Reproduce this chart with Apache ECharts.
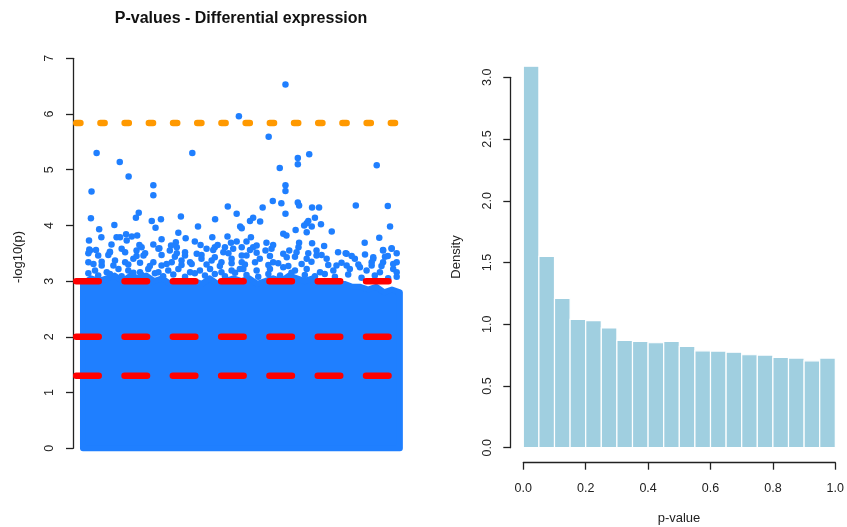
<!DOCTYPE html>
<html>
<head>
<meta charset="utf-8">
<script src="https://cdn.jsdelivr.net/npm/echarts@6/dist/echarts.min.js"></script>
<style>
  html, body { margin: 0; padding: 0; background: #ffffff; }
  #chart { width: 847px; height: 527px; }
</style>
</head>
<body>
<div id="chart"></div>
<script>
// ---- Left panel: -log10(p) per gene (gene index scaled 0..100) ----
// Upper edge of the saturated bulk of points (index, -log10 p)
const denseTop = [
  [0, 2.95], [2.5, 3.05], [5, 3.0], [7.5, 3.05], [10, 3.1], [12.5, 3.0], [15, 3.1],
  [17.5, 3.05], [20, 3.1], [22.5, 3.0], [25, 3.05], [27.5, 2.95], [30, 3.0], [32.5, 2.95],
  [35, 3.0], [37.5, 2.95], [40, 3.05], [42.5, 2.95], [45, 3.0], [47.5, 3.05], [50, 3.0],
  [52.5, 3.05], [55, 2.95], [57.5, 3.0], [60, 3.05], [62.5, 3.0], [65, 3.1], [67.5, 3.05],
  [70, 3.0], [72.5, 3.05], [75, 2.95], [77.5, 3.0], [80, 2.9], [82.5, 2.95], [85, 2.9],
  [87.5, 2.9], [90, 2.85], [92.5, 2.9], [95, 2.8], [97.5, 2.85], [100, 2.8]
];

// Individual genes standing out above the bulk
const topGenes = [
  [63.9, 6.53], [49.2, 5.96], [58.6, 5.59], [4.3, 5.30], [34.5, 5.30], [71.4, 5.28], [67.8, 5.21],
  [67.8, 5.10], [11.6, 5.14], [92.7, 5.08], [62.1, 5.03], [14.4, 4.88], [63.9, 4.72], [63.9, 4.62],
  [22.2, 4.72], [22.2, 4.54], [2.7, 4.61], [59.9, 4.44], [62.6, 4.40], [67.8, 4.41], [68.2, 4.36],
  [56.7, 4.32], [45.7, 4.34], [86.1, 4.36], [96.2, 4.35], [72.3, 4.32], [74.5, 4.32], [48.5, 4.21],
  [63.9, 4.21], [17.6, 4.23], [16.7, 4.14], [2.5, 4.13], [30.9, 4.16], [41.7, 4.11], [21.7, 4.08],
  [24.6, 4.11], [53.7, 4.14], [52.7, 4.08], [55.9, 4.07], [73.2, 4.14], [71.1, 4.08], [70.6, 4.04],
  [69.8, 4.00], [72.2, 3.98], [75.1, 4.02], [9.9, 4.01], [22.9, 3.96], [36.3, 3.98], [49.6, 3.98],
  [50.1, 3.95], [96.9, 3.98], [5.1, 3.93], [70.6, 3.88], [67.1, 3.92], [78.5, 3.89], [63.2, 3.85],
  [64.2, 3.82], [93.5, 3.78], [5.8, 3.79], [10.6, 3.79], [11.7, 3.79], [13.6, 3.84], [15.4, 3.80],
  [17.1, 3.82], [30.1, 3.87], [32.4, 3.77], [40.8, 3.79], [45.6, 3.80], [53.0, 3.79], [1.9, 3.73],
  [13.8, 3.73], [24.8, 3.75], [35.3, 3.71], [48.5, 3.71], [51.6, 3.71], [46.7, 3.69], [57.9, 3.69],
  [68.2, 3.69], [72.3, 3.68], [88.9, 3.69], [9.0, 3.66], [17.8, 3.65], [29.3, 3.70], [42.5, 3.65],
  [22.2, 3.66], [27.8, 3.64], [37.1, 3.65], [54.8, 3.64], [60.0, 3.65], [76.1, 3.63], [97.4, 3.59],
  [2.0, 3.57], [4.1, 3.56], [8.5, 3.53], [16.9, 3.55], [24.1, 3.59], [29.6, 3.50], [41.1, 3.56],
  [44.8, 3.61], [52.7, 3.56], [57.6, 3.55], [65.1, 3.55], [68.0, 3.61], [73.7, 3.55], [82.9, 3.50],
  [94.7, 3.56], [91.6, 3.43], [96.2, 3.45]
];

// Genes in the thinning band just above the bulk
const bandGenes = [
  [2.2, 3.55], [4.8, 3.46], [8.5, 3.52], [12.2, 3.58], [18.5, 3.61], [23.8, 3.58], [27.4, 3.55],
  [29.6, 3.61], [32.2, 3.46], [35.9, 3.49], [39.0, 3.58], [41.6, 3.61], [44.3, 3.52], [47.4, 3.58],
  [50.1, 3.61], [1.7, 3.34], [5.9, 3.28], [10.1, 3.37], [13.3, 3.34], [15.9, 3.40], [19.1, 3.46],
  [22.2, 3.34], [24.8, 3.28], [28.0, 3.34], [31.1, 3.37], [34.3, 3.31], [37.4, 3.40], [40.6, 3.37],
  [43.7, 3.34], [46.9, 3.40], [50.1, 3.34], [3.8, 3.19], [7.5, 3.16], [11.2, 3.22], [14.3, 3.19],
  [18.0, 3.16], [20.6, 3.22], [23.8, 3.16], [26.9, 3.19], [30.1, 3.22], [33.8, 3.16], [36.9, 3.19],
  [40.1, 3.22], [43.7, 3.16], [46.9, 3.19], [49.5, 3.22],
  [53.7, 3.61], [59.5, 3.58], [83.2, 3.49], [85.8, 3.40], [97.4, 3.58], [94.7, 3.55], [91.6, 3.40],
  [99.0, 3.34], [51.6, 3.46], [55.8, 3.40], [60.0, 3.34], [64.3, 3.43], [67.4, 3.52], [70.6, 3.40],
  [73.7, 3.46], [76.9, 3.40], [80.0, 3.28], [83.2, 3.28], [87.4, 3.25], [91.1, 3.28], [94.7, 3.34],
  [97.9, 3.22], [50.6, 3.22], [54.8, 3.19], [59.0, 3.22], [63.2, 3.25], [66.9, 3.19], [70.6, 3.22],
  [74.8, 3.16], [79.0, 3.19], [84.2, 3.22], [89.5, 3.19], [93.7, 3.16], [99.0, 3.16],
  // row near -log10 p = 3.5
  [1.7, 3.50], [8.0, 3.47], [13.3, 3.52], [16.9, 3.45], [19.6, 3.50], [24.8, 3.47], [29.0, 3.44],
  [32.2, 3.52], [37.4, 3.47], [41.6, 3.43], [45.9, 3.50], [50.1, 3.46], [54.8, 3.51], [59.0, 3.45],
  [63.2, 3.49], [66.9, 3.44], [71.1, 3.50], [75.3, 3.47], [80.5, 3.52], [84.8, 3.45], [89.0, 3.48],
  [95.3, 3.44], [99.0, 3.50],
  // row near 3.3
  [3.3, 3.31], [5.9, 3.35], [9.6, 3.28], [14.3, 3.30], [18.0, 3.33], [21.1, 3.27], [26.4, 3.31],
  [31.1, 3.29], [33.8, 3.34], [39.0, 3.30], [43.2, 3.27], [46.9, 3.32], [51.1, 3.30], [54.3, 3.34],
  [58.5, 3.29], [61.6, 3.32], [64.8, 3.27], [69.0, 3.31], [72.1, 3.35], [77.4, 3.29], [81.6, 3.33],
  [86.9, 3.30], [91.1, 3.34], [94.2, 3.27], [97.9, 3.31],
  // row near 3.1
  [1.7, 3.14], [4.8, 3.10], [8.5, 3.13], [12.2, 3.09], [15.9, 3.15], [18.5, 3.11], [22.7, 3.14],
  [25.3, 3.09], [28.5, 3.12], [32.2, 3.08], [35.3, 3.14], [38.5, 3.10], [41.6, 3.13], [44.8, 3.09],
  [48.0, 3.15], [51.6, 3.11], [55.3, 3.08], [58.5, 3.13], [62.2, 3.10], [65.8, 3.15], [70.0, 3.11],
  [73.2, 3.09], [76.3, 3.13], [79.5, 3.08], [83.7, 3.12], [87.9, 3.06], [92.1, 3.10], [96.3, 3.05],
  [99.0, 3.08]
];

// Significance thresholds: -log10 of 0.001, 0.01, 0.05 and the Bonferroni cut-off
const nominalCuts = [3, 2, 1.301];
const bonferroniCut = 5.84;
const logpTicks = [0, 1, 2, 3, 4, 5, 6, 7];

// ---- Right panel: histogram of p-values (density, bin width 0.05) ----
const binWidth = 0.05;
const binDensity = [3.09, 1.55, 1.21, 1.04, 1.03, 0.97, 0.87, 0.86, 0.85, 0.86,
                    0.82, 0.785, 0.783, 0.774, 0.753, 0.75, 0.731, 0.726, 0.704, 0.726];
const densityTicks = [0, 0.5, 1, 1.5, 2, 2.5, 3];
const pTicks = [0, 0.2, 0.4, 0.6, 0.8, 1];

const FONT = '"Liberation Sans", Arial, Helvetica, sans-serif';
const INK = '#222222';
const POINT = '#1f7fff';

const chart = echarts.init(document.getElementById('chart'), null, { renderer: 'canvas' });

function hLine(y, color, dash, z) {
  return {
    type: 'line', xAxisIndex: 0, yAxisIndex: 0, z: z,
    data: [[-2.13, y], [103.2, y]],
    symbol: 'none', silent: true, animation: false,
    lineStyle: { color: color, width: 6.5, type: dash, cap: 'round' }
  };
}

const histData = binDensity.map((d, i) => [i * binWidth, (i + 1) * binWidth, d]);

const option = {
  animation: false,
  backgroundColor: '#ffffff',
  textStyle: { fontFamily: FONT },
  grid: [
    { left: 73, right: 437, top: 58.3, bottom: 78.7, containLabel: false },
    { left: 523.3, right: 11.3, top: 77.3, bottom: 79.3, containLabel: false }
  ],
  xAxis: [
    { gridIndex: 0, type: 'value', min: -3.15, max: 103.2, show: false,
      axisLine: { onZero: false } },
    {
      gridIndex: 1, type: 'value', min: 0, max: 1, interval: 0.2, offset: 15,
      axisLine: { show: true, onZero: false, lineStyle: { color: INK, width: 1.3 } },
      axisTick: { show: true, length: 7, lineStyle: { color: INK, width: 1.3 },
                  customValues: pTicks },
      axisLabel: { color: INK, fontSize: 12.5, margin: 19, fontFamily: FONT,
                   customValues: pTicks, formatter: v => v.toFixed(1) },
      splitLine: { show: false }
    }
  ],
  yAxis: [
    {
      gridIndex: 0, type: 'value', min: 0, max: 7, interval: 1,
      axisLine: { show: true, onZero: false, lineStyle: { color: INK, width: 1.3 } },
      axisTick: { show: true, length: 7, lineStyle: { color: INK, width: 1.3 },
                  customValues: logpTicks },
      axisLabel: { color: INK, fontSize: 12.5, margin: 17, rotate: 90, fontFamily: FONT,
                   customValues: logpTicks },
      splitLine: { show: false }
    },
    {
      gridIndex: 1, type: 'value', min: 0, max: 3, interval: 0.5, offset: 13,
      axisLine: { show: true, onZero: false, lineStyle: { color: INK, width: 1.3 } },
      axisTick: { show: true, length: 7, lineStyle: { color: INK, width: 1.3 },
                  customValues: densityTicks },
      axisLabel: { color: INK, fontSize: 12.5, margin: 16, rotate: 90, fontFamily: FONT,
                   customValues: densityTicks, formatter: v => v.toFixed(1) },
      splitLine: { show: false }
    }
  ],
  graphic: [
    { type: 'text', x: 241, y: 19, z: 100,
      style: { text: 'P-values - Differential expression', align: 'center', verticalAlign: 'middle',
               font: 'bold 16px ' + FONT, fill: '#111111' } },
    { type: 'text', x: 18, y: 257, rotation: Math.PI / 2, z: 100,
      style: { text: '-log10(p)', align: 'center', verticalAlign: 'middle',
               font: '13px ' + FONT, fill: INK } },
    { type: 'text', x: 456, y: 257, rotation: Math.PI / 2, z: 100,
      style: { text: 'Density', align: 'center', verticalAlign: 'middle',
               font: '13px ' + FONT, fill: INK } },
    { type: 'text', x: 679, y: 518, z: 100,
      style: { text: 'p-value', align: 'center', verticalAlign: 'middle',
               font: '13px ' + FONT, fill: INK } }
  ],
  series: [
    // saturated bulk of non-significant genes
    {
      type: 'custom', xAxisIndex: 0, yAxisIndex: 0, z: 2, silent: true,
      data: [[0, 0]],
      renderItem: function (params, api) {
        const pts = denseTop.map(p => api.coord(p));
        pts.push(api.coord([100, 0]));
        pts.push(api.coord([0, 0]));
        return {
          type: 'polygon',
          shape: { points: pts },
          style: { fill: POINT, stroke: POINT, lineWidth: 6, lineJoin: 'round' }
        };
      }
    },
    {
      type: 'scatter', xAxisIndex: 0, yAxisIndex: 0, z: 3, silent: true,
      data: bandGenes, symbolSize: 6.5, itemStyle: { color: POINT, opacity: 1 }
    },
    {
      type: 'scatter', xAxisIndex: 0, yAxisIndex: 0, z: 3, silent: true,
      data: topGenes, symbolSize: 6.5, itemStyle: { color: POINT, opacity: 1 }
    },
    hLine(nominalCuts[0], '#ff0000', [22.5, 25.8], 5),
    hLine(nominalCuts[1], '#ff0000', [22.5, 25.8], 5),
    hLine(nominalCuts[2], '#ff0000', [22.5, 25.8], 5),
    hLine(bonferroniCut, '#ff9900', [4.2, 20], 5),
    // histogram bars
    {
      type: 'custom', xAxisIndex: 1, yAxisIndex: 1, z: 2, silent: true, clip: false,
      data: histData,
      encode: { x: [0, 1], y: 2 },
      renderItem: function (params, api) {
        const tl = api.coord([api.value(0), api.value(2)]);
        const br = api.coord([api.value(1), 0]);
        return {
          type: 'rect',
          shape: { x: tl[0], y: tl[1], width: br[0] - tl[0], height: br[1] - tl[1] },
          style: { fill: '#a0cfe0', stroke: '#ffffff', lineWidth: 1.2 }
        };
      }
    }
  ]
};

chart.setOption(option);
</script>
</body>
</html>
